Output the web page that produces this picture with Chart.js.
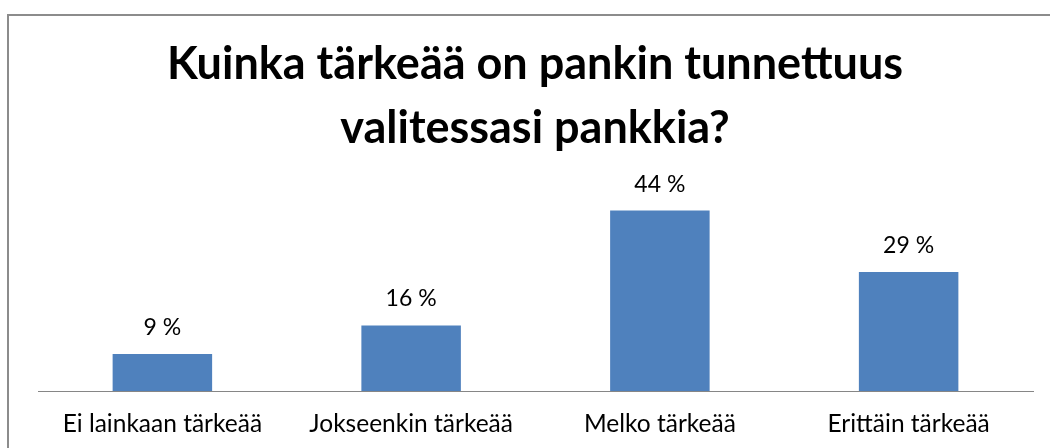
<!DOCTYPE html>
<html>
<head>
<meta charset="utf-8">
<script src="https://cdn.jsdelivr.net/npm/chart.js@4.4.1/dist/chart.umd.min.js"></script>
<style>
html,body{margin:0;padding:0;background:#fff;}
#wrap{width:1050px;height:448px;position:relative;}
</style>
</head>
<body>
<div id="wrap"><canvas id="c" width="1050" height="448"></canvas></div>
<script>
const titleLines = ["Kuinka tärkeää on pankin tunnettuus", "valitessasi pankkia?"];
const categories = ["Ei lainkaan tärkeää", "Jokseenkin tärkeää", "Melko tärkeää", "Erittäin tärkeää"];
const values = [9, 16, 44, 29];
const valueLabels = ["9 %", "16 %", "44 %", "29 %"];

const FONT = "Lato, 'Open Sans', sans-serif";

const framePlugin = {
  id: 'frame',
  beforeDraw(chart) {
    const ctx = chart.ctx;
    ctx.save();
    ctx.fillStyle = '#ffffff';
    ctx.fillRect(0, 0, chart.width, chart.height);
    ctx.strokeStyle = '#8c8c8c';
    ctx.lineWidth = 2;
    ctx.strokeRect(8, 15, 1100, 1000);
    ctx.restore();
  },
  afterDraw(chart) {
    const ctx = chart.ctx;
    ctx.save();
    ctx.fillStyle = '#000000';
    ctx.textAlign = 'center';
    ctx.textBaseline = 'alphabetic';
    ctx.font = "bold 45px " + FONT;
    ctx.fillText(titleLines[0], 535, 79);
    ctx.fillText(titleLines[1], 535, 143);
    const meta = chart.getDatasetMeta(0);
    ctx.font = "23px " + FONT;
    meta.data.forEach((bar, i) => {
      ctx.fillText(valueLabels[i], bar.x, bar.y - 19);
    });
    ctx.restore();
  }
};

new Chart(document.getElementById('c'), {
  type: 'bar',
  data: {
    labels: categories,
    datasets: [{
      data: values,
      backgroundColor: '#4f81bd',
      borderWidth: 0,
      barPercentage: 0.4,
      categoryPercentage: 1.0
    }]
  },
  options: {
    responsive: false,
    animation: false,
    devicePixelRatio: 1,
    layout: { padding: { top: 186, left: 38, right: 17, bottom: 0 } },
    plugins: { legend: { display: false }, title: { display: false }, tooltip: { enabled: false } },
    scales: {
      y: { display: false, min: 0, max: 50 },
      x: {
        afterFit(scale) { scale.height = 57; },
        grid: { display: false, drawTicks: false },
        border: { display: true, color: '#868686', width: 1 },
        ticks: { color: '#000', font: { family: FONT, size: 24.5 }, padding: 18.5, maxRotation: 0 }
      }
    }
  },
  plugins: [framePlugin]
});
</script>
</body>
</html>
